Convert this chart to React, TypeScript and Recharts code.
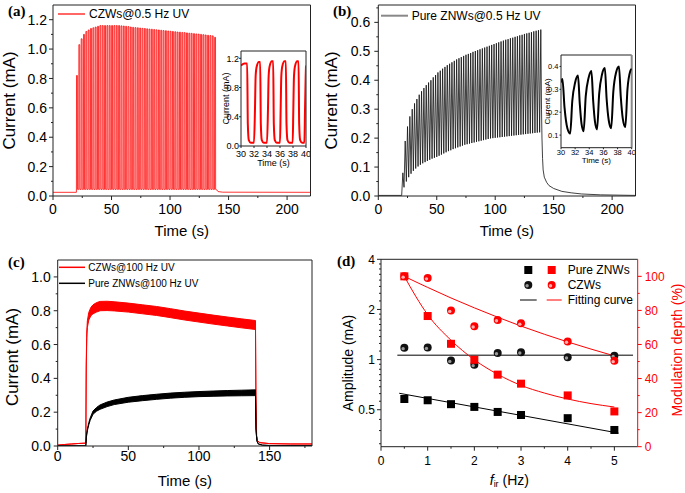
import React from 'react';
import { LineChart, ComposedChart, Line, Area, Scatter, XAxis, YAxis, ReferenceLine } from 'recharts';

const SANS = '"Liberation Sans", Arial, Helvetica, sans-serif';
const SERIF = '"Liberation Serif", "Times New Roman", serif';
const AXIS = '#222';
const RED = '#ff0000';

// ---- (a) CZWs @ 0.5 Hz UV: one peak per 2 s cycle
const aOnsetS = 20;
const aPeriodS = 2;
const aBaseline = 0.025;
const aTrough = 0.045;
const aPeaks = [
  0.82, 1.03, 1.07, 1.1, 1.12, 1.13, 1.14, 1.145, 1.15, 1.155,
  1.16, 1.16, 1.16, 1.16, 1.16, 1.16, 1.16, 1.16, 1.16, 1.158,
  1.157, 1.155, 1.153, 1.15, 1.148, 1.146, 1.145, 1.143, 1.141, 1.14,
  1.138, 1.136, 1.135, 1.133, 1.131, 1.13, 1.128, 1.126, 1.125, 1.123,
  1.121, 1.12, 1.118, 1.116, 1.115, 1.113, 1.112, 1.11, 1.108, 1.107,
  1.105, 1.103, 1.102, 1.1, 1.098, 1.096, 1.094, 1.092, 1.09, 1.08,
];
const aTail: [number, number][] = [[140.2, 0.04], [141, 0.03], [145, 0.026], [220, 0.025]];
const aTimeTicks = [0, 25, 50, 75, 100, 125, 150, 175, 200];
const aTimeMajors = [0, 50, 100, 150, 200];
const aCurTicks = [0, 0.1, 0.2, 0.3, 0.4, 0.5, 0.6, 0.7, 0.8, 0.9, 1.0, 1.1, 1.2];
const aCurMajors = [0, 0.2, 0.4, 0.6, 0.8, 1.0, 1.2];

// inset (a), 30-40 s
const aZoomT = [30, 30.5, 30.95, 31.05, 31.2, 31.5, 32.0, 32.15, 32.25, 32.4, 32.75, 32.95, 33.05, 33.2, 33.5, 34.0, 34.15, 34.25, 34.4, 34.75, 34.95, 35.05, 35.2, 35.5, 36.0, 36.1, 36.2, 36.35, 36.7, 36.9, 37.0, 37.15, 37.45, 37.95, 38.05, 38.15, 38.3, 38.65, 38.85, 38.95, 39.1, 39.4, 39.75, 39.85, 39.95, 40];
const aZoomI = [1.1, 1.13, 1.13, 0.3, 0.08, 0.045, 0.045, 0.5, 0.95, 1.08, 1.15, 1.15, 0.3, 0.08, 0.045, 0.045, 0.5, 0.95, 1.09, 1.16, 1.16, 0.3, 0.08, 0.045, 0.045, 0.5, 0.95, 1.09, 1.16, 1.16, 0.3, 0.08, 0.045, 0.045, 0.5, 0.95, 1.09, 1.16, 1.16, 0.3, 0.08, 0.045, 0.045, 0.5, 0.95, 1.1];
const zoomTimeTicks = [30, 32, 34, 36, 38, 40];
const aZoomCurTicks = [0, 0.4, 0.8, 1.2];

// ---- (b) Pure ZNWs @ 0.5 Hz UV
const bOnsetS = 20;
const bPeriodS = 2;
const bBaseline = 0.002;
const bPeaks = [
  0.08, 0.19, 0.24, 0.275, 0.3, 0.32, 0.335, 0.35, 0.362, 0.373,
  0.383, 0.392, 0.4, 0.41, 0.418, 0.427, 0.433, 0.44, 0.446, 0.452,
  0.457, 0.462, 0.467, 0.472, 0.476, 0.48, 0.484, 0.488, 0.491, 0.494,
  0.498, 0.501, 0.504, 0.507, 0.51, 0.513, 0.516, 0.519, 0.522, 0.525,
  0.528, 0.531, 0.534, 0.537, 0.54, 0.542, 0.545, 0.547, 0.55, 0.552,
  0.555, 0.557, 0.56, 0.562, 0.564, 0.566, 0.569, 0.571, 0.573, 0.575,
];
const bTroughs = [
  0.002, 0.03, 0.05, 0.065, 0.077, 0.087, 0.095, 0.102, 0.108, 0.113,
  0.117, 0.121, 0.125, 0.129, 0.132, 0.135, 0.139, 0.143, 0.147, 0.151,
  0.155, 0.158, 0.162, 0.165, 0.168, 0.171, 0.174, 0.177, 0.179, 0.181,
  0.183, 0.185, 0.187, 0.189, 0.191, 0.193, 0.195, 0.197, 0.199, 0.2,
  0.201, 0.202, 0.203, 0.204, 0.205, 0.206, 0.207, 0.208, 0.209, 0.21,
  0.211, 0.212, 0.213, 0.214, 0.215, 0.216, 0.217, 0.218, 0.219, 0.22,
];
const bTail: [number, number][] = [
  [139.6, 0.3], [140, 0.2], [140.5, 0.13], [141, 0.09], [142, 0.065], [144, 0.047], [146, 0.036],
  [150, 0.026], [157, 0.016], [165, 0.011], [174, 0.007], [190, 0.004], [205, 0.003], [220, 0.002],
];
const bCurTicks = [0, 0.05, 0.1, 0.15, 0.2, 0.25, 0.3, 0.35, 0.4, 0.45, 0.5, 0.55, 0.6, 0.65];
const bCurMajors = [0, 0.1, 0.2, 0.3, 0.4, 0.5, 0.6];

// inset (b), 30-40 s
const bZoomT = [30, 30.2, 30.5, 30.9, 31.3, 31.6, 32.0, 32.4, 32.65, 32.9, 33.2, 33.5, 33.9, 34.3, 34.55, 34.8, 35.1, 35.4, 35.8, 36.2, 36.45, 36.75, 37.1, 37.4, 37.8, 38.2, 38.45, 38.75, 39.1, 39.4, 39.8, 40];
const bZoomI = [0.33, 0.345, 0.22, 0.13, 0.107, 0.25, 0.33, 0.36, 0.24, 0.15, 0.117, 0.27, 0.35, 0.38, 0.25, 0.16, 0.125, 0.28, 0.365, 0.393, 0.26, 0.165, 0.13, 0.29, 0.375, 0.4, 0.27, 0.17, 0.135, 0.3, 0.38, 0.39];
const bZoomCurTicks = [0.1, 0.2, 0.3, 0.4];

// ---- (c) 100 Hz UV: band [low, high] of the fast ripple
const cRedBand: [number, number, number][] = [
  [0, 0.005, 0.005], [5, 0.009, 0.009], [10, 0.012, 0.012], [15, 0.015, 0.015], [19.9, 0.017, 0.017],
  [20.2, 0.45, 0.5], [20.6, 0.64, 0.68], [21, 0.7, 0.74], [22, 0.745, 0.79], [23.5, 0.77, 0.82],
  [25, 0.782, 0.835], [27.5, 0.792, 0.848], [30, 0.8, 0.855], [35, 0.801, 0.856], [40, 0.799, 0.853],
  [50, 0.792, 0.845], [60, 0.782, 0.835], [70, 0.772, 0.825], [80, 0.759, 0.812], [90, 0.745, 0.798],
  [100, 0.733, 0.786], [110, 0.721, 0.774], [120, 0.71, 0.763], [130, 0.699, 0.752], [140, 0.689, 0.742],
  [140.3, 0.3, 0.3], [140.8, 0.06, 0.06], [141.5, 0.03, 0.03], [143, 0.02, 0.02], [150, 0.014, 0.014],
  [165, 0.012, 0.012], [180, 0.012, 0.012],
];
const cBlackBand: [number, number, number][] = [
  [0, 0.001, 0.001], [19.9, 0.001, 0.001], [20.3, 0.05, 0.06], [21, 0.09, 0.1], [22, 0.125, 0.138],
  [23, 0.152, 0.166], [25, 0.188, 0.207], [27.5, 0.206, 0.228], [30, 0.217, 0.243], [35, 0.233, 0.26],
  [40, 0.245, 0.272], [50, 0.259, 0.288], [60, 0.268, 0.298], [70, 0.276, 0.306], [80, 0.283, 0.313],
  [90, 0.288, 0.318], [100, 0.292, 0.322], [110, 0.294, 0.325], [120, 0.296, 0.328], [130, 0.297, 0.33],
  [140, 0.298, 0.332], [140.3, 0.1, 0.1], [141, 0.03, 0.03], [142, 0.012, 0.012], [145, 0.005, 0.005],
  [150, 0.003, 0.003], [180, 0.002, 0.002],
];
const cTimeTicks = [0, 25, 50, 75, 100, 125, 150, 175];
const cTimeMajors = [0, 50, 100, 150];
const cCurTicks = [0, 0.1, 0.2, 0.3, 0.4, 0.5, 0.6, 0.7, 0.8, 0.9, 1.0];
const cCurMajors = [0, 0.2, 0.4, 0.6, 0.8, 1.0];

// ---- (d) amplitude / modulation depth vs frequency
const dFreq = [0.5, 1, 1.5, 2, 2.5, 3, 4, 5];
const dPureAmp = [0.58, 0.57, 0.54, 0.52, 0.485, 0.465, 0.445, 0.378];
const dCzAmp = [1.176, 1.18, 0.986, 0.93, 1.097, 1.108, 1.033, 1.056];
const dPureDepth = [100, 76.7, 60.4, 51, 42.3, 37, 30.1, 20.7];
const dCzDepth = [100, 99, 79.9, 70.7, 74.4, 72.4, 61.8, 50.4];
const dPureAmpFitF = [0.39, 5.09];
const dPureAmpFit = [0.628, 0.362];
const dCzAmpFitF = [0.35, 5.4];
const dCzAmpFit = [1.063, 1.063];
const dDepthFitF = [0.5, 0.75, 1, 1.5, 2, 2.5, 3, 3.5, 4, 4.5, 5];
const dPureDepthFit = [100, 88, 77.5, 62.5, 51, 42.5, 36, 31.5, 28, 25.3, 23.3];
const dCzDepthFit = [100, 96.7, 93.5, 87.3, 81.5, 76, 70.8, 66, 61.5, 57.3, 53.3];
const dFreqTicks = [0, 0.5, 1, 1.5, 2, 2.5, 3, 3.5, 4, 4.5, 5];
const dFreqMajors = [0, 1, 2, 3, 4, 5];
const dAmpTicks = [0.3125, 0.375, 0.4375, 0.5, 0.5625, 0.625, 0.6875, 0.75, 0.8125, 0.875, 0.9375, 1, 1.125, 1.25, 1.375, 1.5, 1.625, 1.75, 1.875, 2, 2.25, 2.5, 2.75, 3, 3.25, 3.5, 3.75, 4];
const dAmpMajors = [0.5, 1, 2, 4];
const dDepthTicks = [0, 10, 20, 30, 40, 50, 60, 70, 80, 90, 100];
const dDepthMajors = [0, 20, 40, 60, 80, 100];

// ---- series tables built from the arrays above
type Pt = { t: number; i: number };

const aSeries: Pt[] = [{ t: 0, i: aBaseline }, { t: aOnsetS - 0.05, i: aBaseline }];
aPeaks.forEach((pk, k) => {
  const t0 = aOnsetS + k * aPeriodS;
  aSeries.push(
    { t: t0, i: k === 0 ? aBaseline : aTrough },
    { t: t0 + 0.1, i: pk },
    { t: t0 + 0.85, i: pk },
    { t: t0 + 0.95, i: aTrough },
  );
});
aTail.forEach(([t, i]) => aSeries.push({ t, i }));

const bSeries: Pt[] = [{ t: 0, i: bBaseline }];
bPeaks.forEach((pk, k) => {
  const t0 = bOnsetS + k * bPeriodS;
  bSeries.push({ t: t0, i: bTroughs[k] }, { t: t0 + 1, i: pk });
});
bTail.forEach(([t, i]) => bSeries.push({ t, i }));

const aZoom = aZoomT.map((t, k) => ({ t, i: aZoomI[k] }));
const bZoom = bZoomT.map((t, k) => ({ t, i: bZoomI[k] }));
const cRed = cRedBand.map(([t, lo, hi]) => ({ t, band: [lo, hi] }));
const cBlack = cBlackBand.map(([t, lo, hi]) => ({ t, band: [lo, hi] }));
const pts = (xs: number[], ys: number[]) => ys.map((y, k) => ({ f: xs[k], y }));

// ---- axis helpers
type TickCfg = { majors: number[]; size: number; gap: number; len?: number; color?: string; digits?: number };

function makeTick(side: 'bottom' | 'left' | 'right', cfg: TickCfg) {
  const color = cfg.color ?? AXIS;
  const major = cfg.len ?? 4;
  return (p: any) => {
    const v: number = p.payload.value;
    const isMajor = cfg.majors.some((m) => Math.abs(m - v) < 1e-6);
    const len = isMajor ? major : major / 2;
    const label = isMajor ? (cfg.digits != null ? v.toFixed(cfg.digits) : String(v)) : '';
    const fill = cfg.color ?? '#000';
    if (side === 'bottom') {
      return (
        <g>
          <line x1={p.x} y1={p.y} x2={p.x} y2={p.y + len} stroke={color} />
          {label && (
            <text x={p.x} y={p.y + major + cfg.gap} dy="0.72em" textAnchor="middle" fontSize={cfg.size} fontFamily={SANS} fill={fill}>
              {label}
            </text>
          )}
        </g>
      );
    }
    const dir = side === 'left' ? -1 : 1;
    return (
      <g>
        <line x1={p.x} y1={p.y} x2={p.x + dir * len} y2={p.y} stroke={color} />
        {label && (
          <text x={p.x + dir * (major + cfg.gap)} y={p.y} dy="0.36em" textAnchor={side === 'left' ? 'end' : 'start'} fontSize={cfg.size} fontFamily={SANS} fill={fill}>
            {label}
          </text>
        )}
      </g>
    );
  };
}

const vTitle = (text: string, cx: number, shift: number, size: number, color = '#000') => (props: any) => {
  const vb = props.viewBox || { y: 0, height: 0 };
  const cy = vb.y + vb.height / 2 + shift;
  return (
    <text x={cx} y={cy} transform={`rotate(-90 ${cx} ${cy})`} textAnchor="middle" dominantBaseline="central" fontSize={size} fontFamily={SANS} fill={color}>
      {text}
    </text>
  );
};

const hTitle = (content: React.ReactNode, cy: number, size: number) => (props: any) => {
  const vb = props.viewBox || { x: 0, width: 0 };
  return (
    <text x={vb.x + vb.width / 2} y={cy} textAnchor="middle" dominantBaseline="central" fontSize={size} fontFamily={SANS} fill="#000">
      {content}
    </text>
  );
};

const axisBase = { tickSize: 0, tickMargin: 0, tickLine: false, interval: 0 as const, allowDataOverflow: true, axisLine: { stroke: AXIS } };

const square = (fill: string) => (p: any) => <rect x={p.cx - 4} y={p.cy - 4} width={8} height={8} fill={fill} />;

const ball = (cx: number, cy: number, fill: string, hi: string) => (
  <g>
    <circle cx={cx} cy={cy} r={4} fill={fill} />
    <circle cx={cx - 1.2} cy={cy + 0.8} r={1.7} fill={hi} />
  </g>
);
const ballShape = (fill: string, hi: string) => (p: any) => ball(p.cx, p.cy, fill, hi);

export default function App() {
  return (
    <div style={{ position: 'absolute', left: 0, top: 0, width: 685, height: 493, background: '#fff' }}>
      {/* (a) */}
      <div style={{ position: 'absolute', left: 0, top: 0 }}>
        <LineChart width={340} height={250} data={aSeries} margin={{ top: 5, right: 29.5, left: 0, bottom: 0 }}>
          <XAxis type="number" dataKey="t" domain={[0, 220]} ticks={aTimeTicks} height={54} {...axisBase}
            tick={makeTick('bottom', { majors: aTimeMajors, size: 14, gap: 4 })}
            label={hTitle('Time (s)', 230, 15)} />
          <YAxis type="number" domain={[0, 1.3]} ticks={aCurTicks} width={53} {...axisBase}
            tick={makeTick('left', { majors: aCurMajors, size: 14, gap: 2, digits: 1 })}
            label={vTitle('Current (mA)', 9, 0, 17)} />
          <ReferenceLine y={1.3} stroke={AXIS} />
          <ReferenceLine x={220} stroke={AXIS} />
          <Line type="linear" dataKey="i" stroke={RED} strokeWidth={0.8} dot={false} isAnimationActive={false} />
        </LineChart>
      </div>
      <div style={{ position: 'absolute', left: 215, top: 45 }}>
        <LineChart width={95} height={125} data={aZoom} margin={{ top: 6, right: 4, left: 0, bottom: 0 }}>
          <XAxis type="number" dataKey="t" domain={[30, 40]} ticks={zoomTimeTicks} height={24} {...axisBase}
            tick={makeTick('bottom', { majors: zoomTimeTicks, size: 9, gap: 2.5, len: 2 })}
            label={hTitle('Time (s)', 118, 9)} />
          <YAxis type="number" domain={[0, 1.3]} ticks={aZoomCurTicks} width={26} {...axisBase}
            tick={makeTick('left', { majors: aZoomCurTicks, size: 9, gap: 0, len: 2, digits: 1 })}
            label={vTitle('Current (mA)', 11, 0, 9)} />
          <ReferenceLine y={1.3} stroke={AXIS} />
          <ReferenceLine x={40} stroke={AXIS} />
          <Line type="monotone" dataKey="i" stroke={RED} strokeWidth={2} dot={false} isAnimationActive={false} />
        </LineChart>
      </div>

      {/* (b) */}
      <div style={{ position: 'absolute', left: 320, top: 0 }}>
        <LineChart width={365} height={250} data={bSeries} margin={{ top: 5, right: 49.5, left: 0, bottom: 0 }}>
          <XAxis type="number" dataKey="t" domain={[0, 220]} ticks={aTimeTicks} height={54} {...axisBase}
            tick={makeTick('bottom', { majors: aTimeMajors, size: 14, gap: 4 })}
            label={hTitle('Time (s)', 230, 15)} />
          <YAxis type="number" domain={[0, 0.66]} ticks={bCurTicks} width={58.3} {...axisBase}
            tick={makeTick('left', { majors: bCurMajors, size: 14, gap: 4, digits: 1 })}
            label={vTitle('Current (mA)', 11, 0, 17)} />
          <ReferenceLine y={0.66} stroke={AXIS} />
          <ReferenceLine x={220} stroke={AXIS} />
          <Line type="linear" dataKey="i" stroke="#111" strokeWidth={0.8} dot={false} isAnimationActive={false} />
        </LineChart>
      </div>
      <div style={{ position: 'absolute', left: 535, top: 48 }}>
        <LineChart width={100} height={118} data={bZoom} margin={{ top: 7, right: 3.3, left: 0, bottom: 0 }}>
          <XAxis type="number" dataKey="t" domain={[30, 40]} ticks={zoomTimeTicks} height={18.3} {...axisBase}
            tick={makeTick('bottom', { majors: zoomTimeTicks, size: 7.5, gap: 0, len: 1.5 })}
            label={hTitle('Time (s)', 112.5, 8)} />
          <YAxis type="number" domain={[0.045, 0.45]} ticks={bZoomCurTicks} width={26} {...axisBase}
            tick={makeTick('left', { majors: bZoomCurTicks, size: 7.5, gap: 1, len: 1.5, digits: 1 })}
            label={vTitle('Current (mA)', 13, 0, 8)} />
          <ReferenceLine y={0.45} stroke={AXIS} />
          <ReferenceLine x={40} stroke="#888" strokeWidth={2} />
          <Line type="monotone" dataKey="i" stroke="#000" strokeWidth={2} dot={false} isAnimationActive={false} />
        </LineChart>
      </div>

      {/* (c) */}
      <div style={{ position: 'absolute', left: 0, top: 250 }}>
        <ComposedChart width={340} height={243} margin={{ top: 10, right: 28, left: 0, bottom: 0 }}>
          <XAxis type="number" dataKey="t" domain={[0, 180]} ticks={cTimeTicks} height={47} {...axisBase}
            tick={makeTick('bottom', { majors: cTimeMajors, size: 14, gap: 1 })}
            label={hTitle('Time (s)', 230, 15)} />
          <YAxis type="number" domain={[0, 1.1]} ticks={cCurTicks} width={57.7} {...axisBase}
            tick={makeTick('left', { majors: cCurMajors, size: 14, gap: 3, digits: 1 })}
            label={vTitle('Current (mA)', 12, 4, 17)} />
          <ReferenceLine y={1.1} stroke={AXIS} />
          <ReferenceLine x={180} stroke={AXIS} />
          <Area data={cRed} dataKey="band" type="linear" stroke={RED} fill={RED} fillOpacity={1} strokeWidth={1} dot={false} activeDot={false} isAnimationActive={false} />
          <Area data={cBlack} dataKey="band" type="linear" stroke="#000" fill="#000" fillOpacity={1} strokeWidth={1} dot={false} activeDot={false} isAnimationActive={false} />
        </ComposedChart>
      </div>

      {/* (d) */}
      <div style={{ position: 'absolute', left: 320, top: 250 }}>
        <ComposedChart width={365} height={243} margin={{ top: 9.3, right: 0, left: 0, bottom: 0 }}>
          <XAxis type="number" dataKey="f" domain={[0, 5.5]} ticks={dFreqTicks} height={46.3} {...axisBase}
            tick={makeTick('bottom', { majors: dFreqMajors, size: 12, gap: 6 })}
            label={hTitle(
              <>
                <tspan fontStyle="italic">f</tspan>
                <tspan fontSize={9} dy={4}>ir</tspan>
                <tspan dy={-4}> (Hz)</tspan>
              </>,
              230, 14)} />
          <YAxis yAxisId="amp" type="number" scale="log" domain={[0.3, 4]} ticks={dAmpTicks} width={61} {...axisBase}
            tick={makeTick('left', { majors: dAmpMajors, size: 12, gap: 2 })}
            label={vTitle('Amplitude (mA)', 28.3, 10, 14)} />
          <YAxis yAxisId="mod" orientation="right" type="number" domain={[0, 110]} ticks={dDepthTicks} width={47.3} {...axisBase}
            axisLine={{ stroke: RED }}
            tick={makeTick('right', { majors: dDepthMajors, size: 12, gap: 3, color: RED })}
            label={vTitle('Modulation depth (%)', 356.7, -3, 14, RED)} />
          <ReferenceLine yAxisId="amp" y={4} stroke={AXIS} />
          <Line yAxisId="amp" data={pts(dCzAmpFitF, dCzAmpFit)} dataKey="y" type="linear" stroke="#000" strokeWidth={1} dot={false} isAnimationActive={false} />
          <Line yAxisId="amp" data={pts(dPureAmpFitF, dPureAmpFit)} dataKey="y" type="linear" stroke="#000" strokeWidth={1} dot={false} isAnimationActive={false} />
          <Line yAxisId="mod" data={pts(dDepthFitF, dCzDepthFit)} dataKey="y" type="monotone" stroke={RED} strokeWidth={1} dot={false} isAnimationActive={false} />
          <Line yAxisId="mod" data={pts(dDepthFitF, dPureDepthFit)} dataKey="y" type="monotone" stroke={RED} strokeWidth={1} dot={false} isAnimationActive={false} />
          <Scatter yAxisId="amp" data={pts(dFreq, dPureAmp)} dataKey="y" shape={square('#000')} isAnimationActive={false} />
          <Scatter yAxisId="amp" data={pts(dFreq, dCzAmp)} dataKey="y" shape={ballShape('#111', '#9a9a9a')} isAnimationActive={false} />
          <Scatter yAxisId="mod" data={pts(dFreq, dPureDepth)} dataKey="y" shape={square(RED)} isAnimationActive={false} />
          <Scatter yAxisId="mod" data={pts(dFreq, dCzDepth)} dataKey="y" shape={ballShape(RED, '#ffb0b0')} isAnimationActive={false} />
        </ComposedChart>
      </div>

      {/* panel letters and legends */}
      <svg width={685} height={493} style={{ position: 'absolute', left: 0, top: 0, pointerEvents: 'none' }}>
        <g fontFamily={SERIF} fontWeight="bold" fontSize={15} fill="#000" dominantBaseline="central">
          <text x={8} y={11}>(a)</text>
          <text x={333} y={11}>(b)</text>
          <text x={8} y={262}>(c)</text>
          <text x={337} y={261}>(d)</text>
        </g>
        <g fontFamily={SANS} fill="#000" dominantBaseline="central">
          <line x1={58} y1={14} x2={85} y2={14} stroke="#f66" strokeWidth={2} />
          <text x={89} y={14} fontSize={12}>CZWs@0.5 Hz UV</text>
          <line x1={381} y1={15.7} x2={408} y2={15.7} stroke="#888" strokeWidth={2} />
          <text x={411.7} y={15.7} fontSize={12}>Pure ZNWs@0.5 Hz UV</text>
          <line x1={59} y1={267.3} x2={85} y2={267.3} stroke={RED} strokeWidth={1.5} />
          <text x={88.3} y={267.3} fontSize={10}>CZWs@100 Hz UV</text>
          <line x1={59} y1={283.3} x2={85} y2={283.3} stroke="#000" strokeWidth={1.5} />
          <text x={88.3} y={283.3} fontSize={10}>Pure ZNWs@100 Hz UV</text>
          <rect x={524.3} y={266} width={8} height={8} fill="#000" />
          <rect x={547.7} y={266} width={8} height={8} fill={RED} />
          {ball(528.3, 285, '#111', '#9a9a9a')}
          {ball(551.7, 285, RED, '#ffb0b0')}
          <line x1={520} y1={300} x2={536.7} y2={300} stroke="#000" strokeWidth={1} />
          <line x1={546.7} y1={300} x2={561.7} y2={300} stroke={RED} strokeWidth={1} />
          <text x={567.7} y={270} fontSize={12}>Pure ZNWs</text>
          <text x={567.7} y={285} fontSize={12}>CZWs</text>
          <text x={567.7} y={300} fontSize={12}>Fitting curve</text>
        </g>
      </svg>
    </div>
  );
}
